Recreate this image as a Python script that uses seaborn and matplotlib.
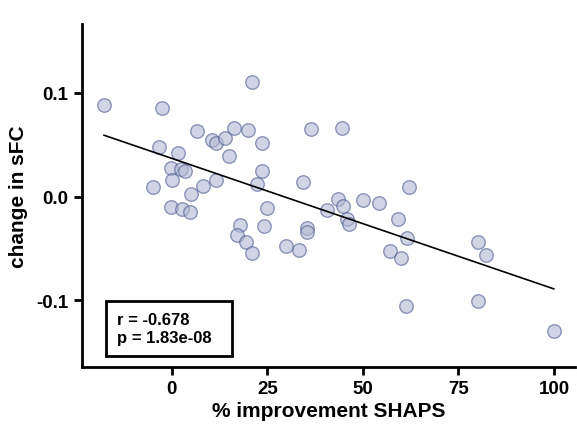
import matplotlib
matplotlib.use("Agg")
import matplotlib.pyplot as plt
from matplotlib.patches import Rectangle
import seaborn as sns
import pandas as pd

shaps_improvement = [
    -17.8, -2.6, 21.0, 6.7, -3.3, 1.7, -0.3, 2.4, 3.4, 0.0,
    -4.9, 5.0, 8.2, 11.6, -0.2, 2.7, 4.8, 10.4, 11.6, 13.9,
    16.2, 20.0, 23.5, 14.9, 23.5, 22.2, 34.4, 36.4, 40.5, 25.0,
    17.9, 17.1, 19.4, 21.0, 24.2, 29.9, 33.2, 35.4, 35.4, 44.4,
    62.0, 43.5, 44.8, 50.0, 54.2, 45.7, 46.4, 59.1, 61.5, 57.1,
    60.0, 80.0, 82.1, 61.3, 80.0, 100.0,
]
sfc_change = [
    0.0884, 0.0855, 0.1106, 0.0637, 0.0476, 0.0418, 0.0277, 0.0264, 0.0245, 0.0164,
    0.0096, 0.0029, 0.0106, 0.0158, -0.0102, -0.0119, -0.0150, 0.0547, 0.0515, 0.0566,
    0.0665, 0.0640, 0.0518, 0.0396, 0.0248, 0.0122, 0.0145, 0.0650, -0.0125, -0.0112,
    -0.0276, -0.0372, -0.0437, -0.0540, -0.0280, -0.0478, -0.0511, -0.0299, -0.0343, 0.0662,
    0.0094, -0.0025, -0.0087, -0.0035, -0.0064, -0.0218, -0.0260, -0.0218, -0.0395, -0.0524,
    -0.0591, -0.0434, -0.0559, -0.1057, -0.1006, -0.1295,
]
x_ticks = [0, 25, 50, 75, 100]
y_ticks = [-0.1, 0.0, 0.1]
y_tick_labels = ["-0.1", "0.0", "0.1"]
stats_text = "r = -0.678\np = 1.83e-08"

df = pd.DataFrame({"x": shaps_improvement, "y": sfc_change})

sns.set_style("ticks")
plt.rcParams["font.family"] = ["Liberation Sans", "DejaVu Sans"]
plt.rcParams["text.color"] = "black"
plt.rcParams["axes.labelcolor"] = "black"

fig = plt.figure(figsize=(5.77, 4.27), dpi=100)
ax = fig.add_axes([0.1416, 0.1382, 0.855, 0.8033])

sns.regplot(
    data=df, x="x", y="y", ax=ax, ci=None, truncate=True,
    scatter_kws=dict(s=95, facecolor=(0.70, 0.72, 0.83), edgecolor="#4c5c92",
                     linewidths=1.0, alpha=0.6),
    line_kws=dict(color="black", linewidth=1.2),
)

ax.set_xlim(-23.6, 105.5)
ax.set_ylim(-0.1642, 0.1665)
ax.set_xticks(x_ticks)
ax.set_xticklabels([str(t) for t in x_ticks])
ax.set_yticks(y_ticks)
ax.set_yticklabels(y_tick_labels)

for side in ["top", "right"]:
    ax.spines[side].set_visible(False)
for side in ["left", "bottom"]:
    ax.spines[side].set_linewidth(2)
    ax.spines[side].set_color("black")
ax.tick_params(axis="both", width=2, length=6, direction="out",
               labelsize=13.5, colors="black")
for lab in ax.get_xticklabels() + ax.get_yticklabels():
    lab.set_fontweight("bold")

ax.set_xlabel("% improvement SHAPS", fontsize=15, fontweight="bold", labelpad=3,
              color="black")
ax.set_ylabel("change in sFC", fontsize=15, fontweight="bold", labelpad=6,
              color="black")

ax.add_patch(Rectangle((0.0493, 0.032), 0.2554, 0.1613, transform=ax.transAxes,
                       facecolor="white", edgecolor="black", linewidth=2, zorder=5))
ax.text(0.0716, 0.1122, stats_text, transform=ax.transAxes, fontsize=12,
        fontweight="bold", va="center", ha="left", linespacing=1.25, zorder=6,
        color="black")

fig.savefig("out.png", dpi=100)
